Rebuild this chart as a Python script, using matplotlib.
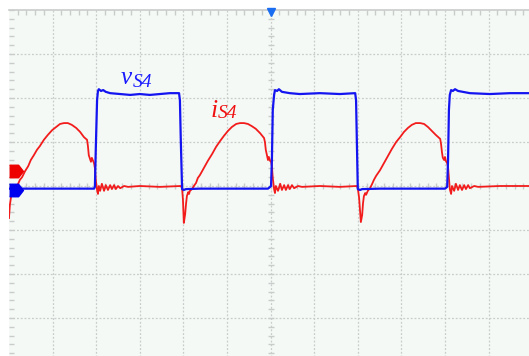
import numpy as np
import matplotlib
matplotlib.use("Agg")
import matplotlib.pyplot as plt
from matplotlib.ticker import MultipleLocator

# ---- data (time in divisions, amplitude in divisions) ----
blue_t = [0.00, 1.95, 1.97, 1.99, 2.02, 2.04, 2.06, 2.11, 2.16, 2.22, 2.32, 2.55, 2.78, 3.00, 3.23,
          3.46, 3.69, 3.90, 3.92, 3.94, 3.97, 4.01, 4.06, 4.38, 5.94, 5.99, 6.01, 6.03, 6.05,
          6.08, 6.10, 6.15, 6.19, 6.26, 6.44, 6.67, 7.13, 7.59, 7.94, 7.96, 7.98, 8.00, 8.05,
          8.10, 8.51, 10.00, 10.05, 10.07, 10.09, 10.11, 10.14, 10.18, 10.23, 10.30, 10.57,
          11.03, 11.49, 12.00]
blue_v = [-0.06, -0.06, -0.02, 0.82, 1.95, 2.16, 2.20, 2.16, 2.18, 2.14, 2.11, 2.09, 2.07, 2.09, 2.07,
          2.09, 2.11, 2.11, 1.95, 1.05, -0.07, -0.09, -0.07, -0.06, -0.06, -0.02, 0.00, 0.59, 1.73,
          2.07, 2.18, 2.16, 2.20, 2.14, 2.11, 2.09, 2.11, 2.09, 2.11, 1.95, 0.93, -0.07, -0.09,
          -0.07, -0.06, -0.06, -0.02, 0.59, 1.73, 2.07, 2.18, 2.16, 2.20, 2.16, 2.11,
          2.09, 2.11, 2.11]

red_t = [0.00, 0.02, 0.05, 0.07, 0.11, 0.16, 0.21, 0.25, 0.30, 0.37, 0.44, 0.50, 0.57, 0.64, 0.71,
         0.80, 0.89, 0.99, 1.08, 1.17, 1.26, 1.35, 1.44, 1.54, 1.63, 1.72, 1.79, 1.81, 1.83, 1.86,
         1.88, 1.90, 1.93, 1.95, 1.97, 1.99, 2.02, 2.04, 2.06, 2.09, 2.13, 2.18, 2.22, 2.27, 2.32,
         2.36, 2.41, 2.45, 2.50, 2.55, 2.64, 2.73, 3.00, 3.46, 3.94,
         3.97, 3.99, 4.01, 4.04, 4.06, 4.08, 4.11, 4.13, 4.15, 4.20, 4.24, 4.29, 4.33, 4.38, 4.47,
         4.56, 4.66, 4.75, 4.84, 4.93, 5.02, 5.11, 5.21, 5.30, 5.39, 5.48, 5.57, 5.66, 5.76, 5.85,
         5.87, 5.89, 5.92, 5.94, 5.96, 5.99, 6.01, 6.03, 6.05, 6.08, 6.10, 6.12, 6.17, 6.22, 6.26,
         6.31, 6.35, 6.40, 6.44, 6.49, 6.54, 6.63, 6.72, 7.13, 7.59, 7.98,
         8.00, 8.03, 8.07, 8.10, 8.12, 8.14, 8.17, 8.19, 8.23, 8.28, 8.33, 8.37, 8.42, 8.51, 8.60,
         8.69, 8.78, 8.88, 8.97, 9.06, 9.15, 9.24, 9.33, 9.43, 9.52, 9.61, 9.70, 9.79, 9.89, 9.91,
         9.93, 9.95, 9.98, 10.00, 10.02, 10.05, 10.07, 10.09, 10.11, 10.14, 10.16, 10.21, 10.25,
         10.30, 10.34, 10.39, 10.44, 10.48, 10.53, 10.57, 10.67, 10.76, 11.26, 12.00]
red_v = [-0.73, -0.43, -0.23, -0.14, -0.09, -0.02, 0.05, 0.14, 0.20, 0.34, 0.45, 0.59, 0.70, 0.82, 0.91,
         1.05, 1.16, 1.27, 1.34, 1.41, 1.43, 1.43, 1.39, 1.32, 1.23, 1.11, 1.05, 0.91, 0.70, 0.61,
         0.55, 0.64, 0.57, 0.52, 0.41, 0.14, -0.09, -0.18, 0.00, -0.11, 0.05, -0.11, 0.02, -0.09, 0.02,
         -0.07, 0.02, -0.07, 0.00, -0.05, 0.00, -0.02, 0.00, -0.02, 0.00,
         -0.05, -0.32, -0.84, -0.64, -0.41, -0.23, -0.14, -0.18, -0.11, -0.07, 0.00, 0.07, 0.18, 0.25, 0.41,
         0.57, 0.73, 0.89, 1.02, 1.14, 1.25, 1.34, 1.41, 1.43, 1.43, 1.41, 1.36, 1.30, 1.20, 1.09,
         1.00, 0.82, 0.68, 0.59, 0.66, 0.57, 0.55, 0.45, 0.18, -0.07, -0.16, 0.00, -0.11, 0.05, -0.09,
         0.02, -0.09, 0.02, -0.07, 0.02, -0.05, 0.00, -0.02, 0.00, -0.02, 0.00,
         -0.05, -0.27, -0.82, -0.66, -0.39, -0.23, -0.16, -0.20, -0.11, -0.05, 0.05, 0.14, 0.23, 0.36, 0.52,
         0.68, 0.84, 1.00, 1.11, 1.23, 1.32, 1.39, 1.43, 1.43, 1.41, 1.34, 1.25, 1.16, 1.07, 0.95,
         0.77, 0.64, 0.59, 0.66, 0.57, 0.52, 0.43, 0.18, -0.07, -0.18, 0.00, -0.11, 0.05,
         -0.09, 0.02, -0.09, 0.02, -0.07, 0.02, -0.05, 0.00, -0.02, 0.00, 0.00]

blue_sym, blue_sub = 'v', 'S4'
red_sym, red_sub = 'i', 'S4'
blue_ref_level = -0.08
red_ref_level = 0.34

# ---- figure ----
W, H = 529, 356
fig = plt.figure(figsize=(W / 100, H / 100), dpi=100)
fig.patch.set_facecolor('white')
ax = fig.add_axes([9 / W, -6 / H, 523.2 / W, 352 / H])
ax.set_facecolor('#f4f9f6')
ax.set_xlim(0, 12)
ax.set_ylim(-4, 4)

gcol = '#c9cccb'
for x in range(1, 12):
    ax.axvline(x, color=gcol, lw=0.9, ls=(0, (1.5, 1.5)), zorder=1)
for y in range(-3, 4):
    ax.axhline(y, color=gcol, lw=0.9, ls=(0, (1.5, 1.5)), zorder=1)

for s in ['left', 'right', 'bottom']:
    ax.spines[s].set_visible(False)
ax.spines['top'].set_color(gcol)
ax.spines['top'].set_linewidth(1.2)

ax.xaxis.set_minor_locator(MultipleLocator(0.2))
ax.xaxis.set_major_locator(MultipleLocator(1))
ax.yaxis.set_minor_locator(MultipleLocator(0.2))
ax.yaxis.set_major_locator(MultipleLocator(1))
ax.tick_params(axis='x', which='both', top=True, bottom=False, direction='in',
               labeltop=False, labelbottom=False, color=gcol, width=1)
ax.tick_params(axis='x', which='major', length=0)
ax.tick_params(axis='x', which='minor', length=3.5)
ax.tick_params(axis='y', which='both', left=True, right=False, direction='in',
               labelleft=False, color=gcol, width=1, length=3.5)

# centre cross ticks
cy = np.arange(-4, 4.01, 0.2)
ax.plot(np.full_like(cy, 6), cy, ls='none', marker='_', ms=4, mew=1, color=gcol, zorder=1)
cx = np.arange(0, 12.01, 0.2)
ax.plot(cx, np.zeros_like(cx), ls='none', marker='|', ms=4, mew=1, color=gcol, zorder=1)

# traces
ax.plot(red_t, red_v, color='#f21c1c', lw=1.3, zorder=3, solid_joinstyle='round')
ax.plot(blue_t, blue_v, color='#1414f0', lw=1.6, zorder=4, solid_joinstyle='round')

# labels
ser = dict(family=['Liberation Serif', 'DejaVu Serif'], style='italic', ha='left', va='baseline', zorder=5)
ax.text(2.57, 2.32, blue_sym, color='#1a1aff', fontsize=18, **ser)
ax.text(2.85, 2.25, blue_sub, color='#1a1aff', fontsize=14, **ser)
ax.text(4.62, 1.57, red_sym, color='#f01010', fontsize=18.5, **ser)
ax.text(4.78, 1.55, red_sub, color='#f01010', fontsize=14, **ser)

# channel reference markers
tab = [(-1, -0.9), (0.3, -0.9), (1, 0), (0.3, 0.9), (-1, 0.9)]
ax.plot([0.16], [red_ref_level], marker=tab, ms=10, color='#ee0000', ls='none', zorder=6, clip_on=False)
ax.plot([0.16], [blue_ref_level], marker=tab, ms=10, color='#0000ee', ls='none', zorder=6, clip_on=False)

# trigger marker
ax.plot([6], [3.95], marker='v', ms=6, color='#1a6cf0', ls='none', zorder=6, clip_on=False)

fig.savefig('out.png', dpi=100)
